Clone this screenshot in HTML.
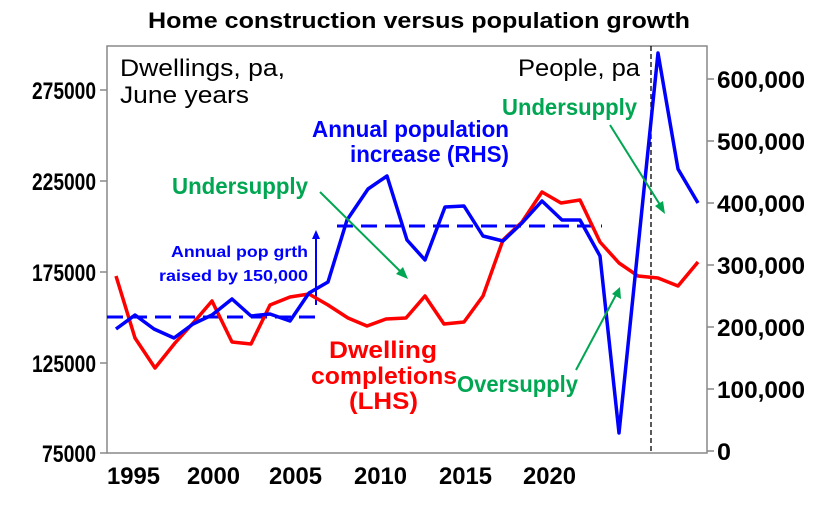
<!DOCTYPE html><html><head><style>body{margin:0;background:#fff}</style></head><body>
<svg width="821" height="500" xmlns="http://www.w3.org/2000/svg" font-family="Liberation Sans, Arial, sans-serif">
<rect width="821" height="500" fill="#fff"/>
<text x="148" y="28" font-size="22" font-weight="bold" textLength="542" lengthAdjust="spacingAndGlyphs">Home construction versus population growth</text>
<rect x="107" y="46" width="600" height="407" fill="none" stroke="#888" stroke-width="1.5"/>
<g stroke="#888" stroke-width="1.5">
<line x1="100" y1="90" x2="107" y2="90"/><line x1="100" y1="181" x2="107" y2="181"/><line x1="100" y1="272" x2="107" y2="272"/><line x1="100" y1="363" x2="107" y2="363"/><line x1="100" y1="453" x2="107" y2="453"/>
<line x1="707" y1="79" x2="714" y2="79"/><line x1="707" y1="141" x2="714" y2="141"/><line x1="707" y1="203" x2="714" y2="203"/><line x1="707" y1="265" x2="714" y2="265"/><line x1="707" y1="327" x2="714" y2="327"/><line x1="707" y1="389" x2="714" y2="389"/><line x1="707" y1="451" x2="714" y2="451"/>
</g>
<g font-size="24" font-weight="bold">
<text x="32" y="99" textLength="64" lengthAdjust="spacingAndGlyphs">275000</text>
<text x="32" y="190" textLength="64" lengthAdjust="spacingAndGlyphs">225000</text>
<text x="32" y="281" textLength="64" lengthAdjust="spacingAndGlyphs">175000</text>
<text x="32" y="372" textLength="64" lengthAdjust="spacingAndGlyphs">125000</text>
<text x="42" y="462" textLength="54" lengthAdjust="spacingAndGlyphs">75000</text>
<text x="717" y="88" textLength="88" lengthAdjust="spacingAndGlyphs">600,000</text>
<text x="717" y="150" textLength="88" lengthAdjust="spacingAndGlyphs">500,000</text>
<text x="717" y="212" textLength="88" lengthAdjust="spacingAndGlyphs">400,000</text>
<text x="717" y="274" textLength="88" lengthAdjust="spacingAndGlyphs">300,000</text>
<text x="717" y="336" textLength="88" lengthAdjust="spacingAndGlyphs">200,000</text>
<text x="717" y="398" textLength="88" lengthAdjust="spacingAndGlyphs">100,000</text>
<text x="717" y="460" textLength="14" lengthAdjust="spacingAndGlyphs">0</text>
<text x="107" y="484" textLength="53" lengthAdjust="spacingAndGlyphs">1995</text>
<text x="187" y="484" textLength="53" lengthAdjust="spacingAndGlyphs">2000</text>
<text x="269" y="484" textLength="53" lengthAdjust="spacingAndGlyphs">2005</text>
<text x="354" y="484" textLength="53" lengthAdjust="spacingAndGlyphs">2010</text>
<text x="439" y="484" textLength="53" lengthAdjust="spacingAndGlyphs">2015</text>
<text x="523" y="484" textLength="53" lengthAdjust="spacingAndGlyphs">2020</text>
</g>
<line x1="651" y1="46" x2="651" y2="453" stroke="#000" stroke-width="1.3" stroke-dasharray="5,3"/>
<g stroke="#00f" stroke-width="3" stroke-dasharray="16,8"><line x1="107" y1="317" x2="315" y2="317"/><line x1="337" y1="226" x2="602" y2="226"/></g>
<line x1="316" y1="305" x2="316" y2="236" stroke="#00f" stroke-width="2"/><polygon points="316,230 312,239 320,239" fill="#00f"/>
<polyline fill="none" stroke="#f00" stroke-width="3.5" stroke-linejoin="round" points="116,276 135,338 155,368 175,343 194,322 212,301 232,342 251,344 270,305 290,297 309,294 328,305 348,318 367,326 386,319 406,318 425,296 444,324 464,322 483,296 503,240 522,222 542,192 561,203 580,200 600,242 619,263 638,276 658,278 678,286 698,262"/>
<polyline fill="none" stroke="#00f" stroke-width="3.5" stroke-linejoin="round" points="116,329 135,315 154,329 174,338 193,324 212,315 232,299 251,316 270,314 290,321 309,293 328,282 347,220 368,189 387,176 407,240 425,260 445,207 464,206 483,236 503,241 522,223 542,201 562,220 580,220 600,256 619,433 658,53 678,169 698,203"/>
<g stroke="#00a651" stroke-width="2"><line x1="320" y1="192" x2="403" y2="274"/><line x1="610" y1="125" x2="662" y2="208"/><line x1="576" y1="370" x2="617" y2="293"/></g>
<g fill="#00a651"><polygon points="408,279 396,274 403,267"/><polygon points="665,214 655,206 663,201"/><polygon points="620,287 621,299 612,294"/></g>
<g font-size="24">
<text x="120" y="76" textLength="165" lengthAdjust="spacingAndGlyphs">Dwellings, pa,</text>
<text x="120" y="103" textLength="129" lengthAdjust="spacingAndGlyphs">June years</text>
<text x="518" y="76" textLength="122" lengthAdjust="spacingAndGlyphs">People, pa</text>
</g>
<g font-size="23" font-weight="bold" fill="#00a651">
<text x="172" y="194" textLength="136" lengthAdjust="spacingAndGlyphs">Undersupply</text>
<text x="502" y="115" textLength="135" lengthAdjust="spacingAndGlyphs">Undersupply</text>
<text x="457" y="392" textLength="121" lengthAdjust="spacingAndGlyphs">Oversupply</text>
</g>
<g font-size="23" font-weight="bold" fill="#00f">
<text x="312" y="137" textLength="197" lengthAdjust="spacingAndGlyphs">Annual population</text>
<text x="350" y="162" textLength="159" lengthAdjust="spacingAndGlyphs">increase (RHS)</text>
</g>
<g font-size="24" font-weight="bold" fill="#f00">
<text x="329" y="358" textLength="108" lengthAdjust="spacingAndGlyphs">Dwelling</text>
<text x="311" y="384" textLength="146" lengthAdjust="spacingAndGlyphs">completions</text>
<text x="349" y="409" textLength="69" lengthAdjust="spacingAndGlyphs">(LHS)</text>
</g>
<g font-size="16" font-weight="bold" fill="#00f">
<text x="171" y="257" textLength="137" lengthAdjust="spacingAndGlyphs">Annual pop grth</text>
<text x="159" y="281" textLength="149" lengthAdjust="spacingAndGlyphs">raised by 150,000</text>
</g>
</svg></body></html>
